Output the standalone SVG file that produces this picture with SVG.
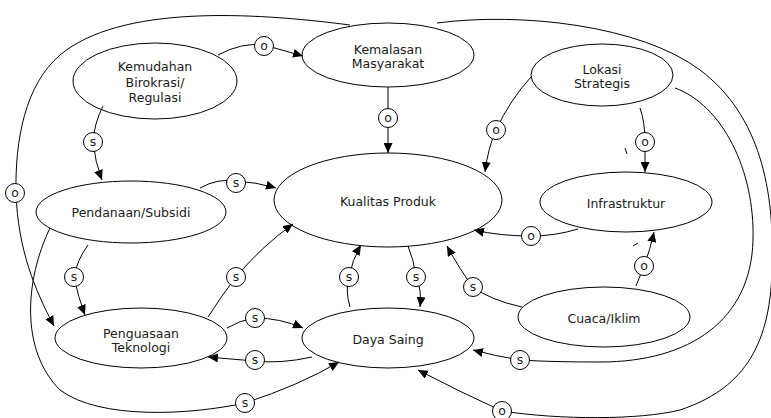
<svg xmlns="http://www.w3.org/2000/svg" width="771" height="418" viewBox="0 0 771 418">
<style>
.n ellipse{fill:#fff;stroke:#000;stroke-width:1}
text{font-family:"DejaVu Sans",Verdana,sans-serif;font-size:12.5px;fill:#1a1a1a;text-anchor:middle}
.c path{fill:none;stroke:#000;stroke-width:1}
.c path.a{marker-end:url(#ah)}
.c circle{fill:#fff;stroke:#000;stroke-width:1}
</style>
<defs>
<marker id="ah" markerUnits="userSpaceOnUse" markerWidth="11" markerHeight="9" refX="10" refY="4.5" orient="auto">
<path d="M0,0 L10,4.5 L0,9 z" fill="#000"/>
</marker>
</defs>
<rect width="771" height="418" fill="#fff"/>
<g id="kemudahan" class="n"><ellipse cx="155" cy="81" rx="82" ry="38"/><text x="155" y="71">Kemudahan</text><text x="155" y="86.5">Birokrasi/</text><text x="155" y="102">Regulasi</text></g>
<g id="kemalasan" class="n"><ellipse cx="388" cy="55" rx="86" ry="32"/><text x="388" y="54">Kemalasan</text><text x="388" y="68">Masyarakat</text></g>
<g id="lokasi" class="n"><ellipse cx="602" cy="75" rx="71" ry="31"/><text x="602" y="74">Lokasi</text><text x="602" y="88">Strategis</text></g>
<g id="kualitas" class="n"><ellipse cx="388" cy="200" rx="114" ry="47"/><text x="388" y="206">Kualitas Produk</text></g>
<g id="infrastruktur" class="n"><ellipse cx="626" cy="202" rx="86" ry="30"/><text x="626" y="208">Infrastruktur</text></g>
<g id="pendanaan" class="n"><ellipse cx="131" cy="212" rx="95" ry="31"/><text x="131" y="217">Pendanaan/Subsidi</text></g>
<g id="penguasaan" class="n"><ellipse cx="141" cy="338" rx="86" ry="30"/><text x="141" y="338">Penguasaan</text><text x="141" y="352">Teknologi</text></g>
<g id="dayasaing" class="n"><ellipse cx="388" cy="338" rx="86" ry="30"/><text x="388" y="344">Daya Saing</text></g>
<g id="cuaca" class="n"><ellipse cx="604" cy="317" rx="86" ry="30"/><text x="604" y="323">Cuaca/Iklim</text></g>
<g id="connectors" class="c">
<path class="a" d="M218,55 Q242,42 264,45 L303,56"/>
<path class="a" d="M388,87 L388,153"/>
<path class="a" d="M103,106 Q94,124 93,142 Q95,162 102,180"/>
<path class="a" d="M200,188 Q218,178 236,181 Q256,182 276,188"/>
<path class="a" d="M88,245 Q77,260 74,277 Q78,297 85,315"/>
<path class="a" d="M208,317 Q222,295 236,277 Q262,246 293,224"/>
<path class="a" d="M227,328 Q240,320 255,318 Q280,318 303,328"/>
<path class="a" d="M312,357 Q280,364 255,361 Q230,359 208,357"/>
<path class="a" d="M350,307 Q345,290 349,277 Q352,260 361,245"/>
<path class="a" d="M408,246 Q414,260 416,277 Q422,290 420,307"/>
<path class="a" d="M531,77 Q510,100 496,130 Q488,148 485,172"/>
<path class="a" d="M640,108 Q645,122 645,142 L645,172"/>
<path class="a" d="M578,229 Q555,236 531,236 Q500,236 474,230"/>
<path class="a" d="M636,286 Q640,276 644,266 Q650,250 654,232"/>
<path class="a" d="M522,307 Q490,300 473,287 Q460,270 447,246"/>
<path class="a" d="M675,88 C722,105 755,170 753,240 C751,320 690,362 600,362 Q550,362 520,360 Q495,356 473,350"/>
<path class="a" d="M437,23 C520,12 640,25 700,70 C760,115 775,190 772,270 C770,350 740,390 680,410 C640,420 560,420 502,411 Q460,392 418,370"/>
<path class="a" d="M350,25 C250,12 120,5 60,55 C25,85 15,140 16,193 C18,250 35,290 54,326"/>
<path class="a" d="M50,228 C25,280 20,350 60,390 C100,420 190,415 245,403 Q300,385 339,362"/>
<path d="M625,148 L627,154"/>
<path d="M633,246 L638,243"/>
<circle cx="264" cy="46" r="9.5"/><text x="264" y="50">o</text>
<circle cx="388" cy="118" r="9.5"/><text x="388" y="122">o</text>
<circle cx="93" cy="142" r="9.5"/><text x="93" y="146">s</text>
<circle cx="236" cy="183" r="9.5"/><text x="236" y="187">s</text>
<circle cx="74" cy="277" r="9.5"/><text x="74" y="281">s</text>
<circle cx="236" cy="277" r="9.5"/><text x="236" y="281">s</text>
<circle cx="255" cy="318" r="9.5"/><text x="255" y="322">s</text>
<circle cx="255" cy="360" r="9.5"/><text x="255" y="364">s</text>
<circle cx="349" cy="277" r="9.5"/><text x="349" y="281">s</text>
<circle cx="416" cy="277" r="9.5"/><text x="416" y="281">s</text>
<circle cx="496" cy="130" r="9.5"/><text x="496" y="134">o</text>
<circle cx="645" cy="142" r="9.5"/><text x="645" y="146">o</text>
<circle cx="531" cy="236" r="9.5"/><text x="531" y="240">o</text>
<circle cx="644" cy="266" r="9.5"/><text x="644" y="270">o</text>
<circle cx="473" cy="287" r="9.5"/><text x="473" y="291">s</text>
<circle cx="520" cy="360" r="9.5"/><text x="520" y="364">s</text>
<circle cx="502" cy="411" r="9.5"/><text x="502" y="415">o</text>
<circle cx="15" cy="193" r="9.5"/><text x="15" y="197">o</text>
<circle cx="245" cy="403" r="9.5"/><text x="245" y="407">s</text>
</g>
</svg>
